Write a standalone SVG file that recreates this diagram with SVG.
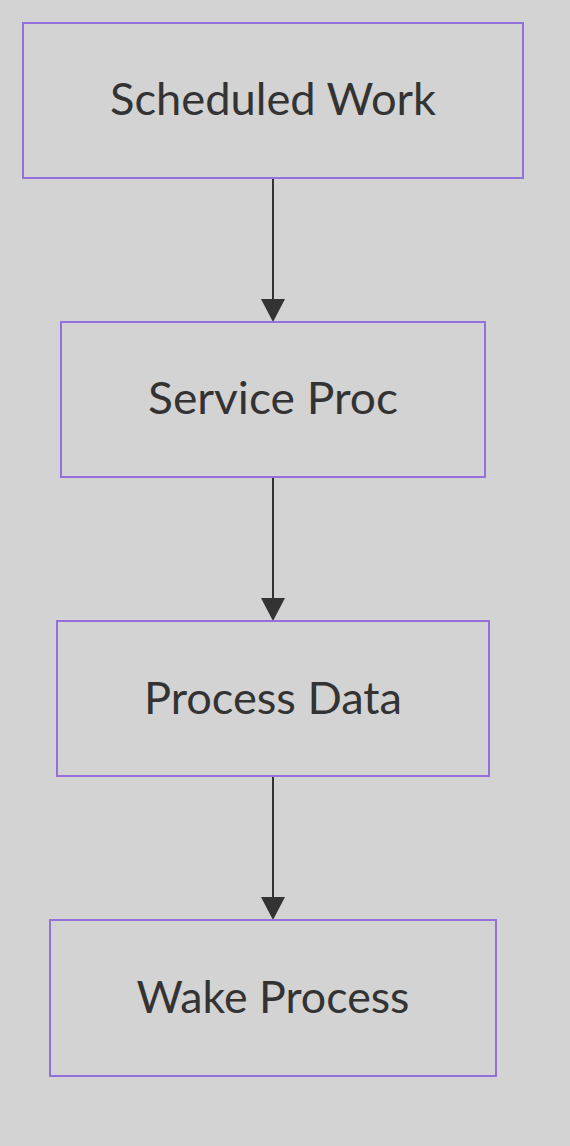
<svg xmlns="http://www.w3.org/2000/svg" width="570" height="1146" viewBox="0 0 570 1146">
<style>
.bg{fill:#d3d3d3}
.node rect{fill:#d3d3d3;stroke:#9370db;stroke-width:2}
.node text{fill:#333;font-family:Lato,"DejaVu Sans",sans-serif;font-size:45px;text-anchor:middle}
.edge{stroke:#333;stroke-width:2;fill:none}
</style>
<defs>
<marker id="arr" markerWidth="12" markerHeight="11" refX="12" refY="5.5" orient="auto" markerUnits="userSpaceOnUse" viewBox="0 0 12 11">
<path d="M0,0 L12,5.5 L0,11 Z" fill="#333"/>
</marker>
</defs>
<rect class="bg" x="0" y="0" width="570" height="1146"/>
<g id="connectors">
<path class="edge" d="M273,179 V300"/>
<path d="M261,299 L285,299 L273,322 Z" fill="#333"/>
<path class="edge" d="M273,478 V599"/>
<path d="M261,598 L285,598 L273,621 Z" fill="#333"/>
<path class="edge" d="M273,777 V898"/>
<path d="M261,897 L285,897 L273,920 Z" fill="#333"/>
</g>
<g id="scheduled-work" class="node">
<rect x="23" y="23" width="500" height="155"/>
<text x="273" y="115" textLength="326" lengthAdjust="spacingAndGlyphs">Scheduled Work</text>
</g>
<g id="service-proc" class="node">
<rect x="61" y="322" width="424" height="155"/>
<text x="273" y="414" textLength="250" lengthAdjust="spacingAndGlyphs">Service Proc</text>
</g>
<g id="process-data" class="node">
<rect x="57" y="621" width="432" height="155"/>
<text x="273" y="714" textLength="258" lengthAdjust="spacingAndGlyphs">Process Data</text>
</g>
<g id="wake-process" class="node">
<rect x="50" y="920" width="446" height="156"/>
<text x="273" y="1013" textLength="273" lengthAdjust="spacingAndGlyphs">Wake Process</text>
</g>
</svg>
